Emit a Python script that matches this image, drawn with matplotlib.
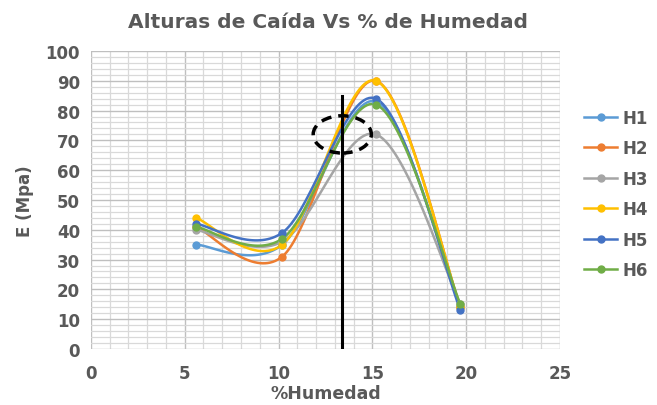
import numpy as np
import matplotlib.pyplot as plt
from matplotlib.patches import Ellipse
from matplotlib.ticker import MultipleLocator

# humedad (%) de cada punto
humedad = [5.6, 10.2, 15.2, 19.7]

# modulo E (Mpa) por serie
series = {
    'H1': [35, 35, 83, 14],
    'H2': [41, 31, 90, 14],
    'H3': [40, 36, 72, 15],
    'H4': [44, 35, 90, 14],
    'H5': [42, 39, 84, 13],
    'H6': [41, 37, 82, 15],
}
colores = {
    'H1': '#5B9BD5', 'H2': '#ED7D31', 'H3': '#A5A5A5',
    'H4': '#FFC000', 'H5': '#4472C4', 'H6': '#70AD47',
}

# linea vertical y elipse marcadas en el grafico
x_linea = 13.4
y_linea_max = 85
elipse_centro = (13.4, 72)
elipse_ancho, elipse_alto = 3.1, 12.5

gris = '#595959'


def suavizar(x, y, n=40):
    # curva tipo "linea suavizada" de Excel (bezier con tangentes catmull-rom)
    p = np.column_stack([x, y]).astype(float)
    ext = np.vstack([p[0], p, p[-1]])
    t = np.linspace(0, 1, n)[:, None]
    partes = []
    for i in range(len(p) - 1):
        p0, p1, p2, p3 = ext[i], ext[i + 1], ext[i + 2], ext[i + 3]
        c1 = p1 + (p2 - p0) / 6
        c2 = p2 - (p3 - p1) / 6
        b = ((1 - t) ** 3) * p1 + 3 * ((1 - t) ** 2) * t * c1 + 3 * (1 - t) * t ** 2 * c2 + t ** 3 * p2
        partes.append(b)
    c = np.vstack(partes)
    return c[:, 0], c[:, 1]


fig = plt.figure(figsize=(6.57, 4.06), dpi=100)
ax = fig.add_axes([0.1385, 0.138, 0.7135, 0.734])

for nombre, valores in series.items():
    xs, ys = suavizar(humedad, valores)
    ax.plot(xs, ys, color=colores[nombre], lw=1.8, zorder=3)
    ax.plot(humedad, valores, 'o', color=colores[nombre], ms=5, zorder=4)
    ax.plot([], [], '-o', color=colores[nombre], lw=1.8, ms=5, label=nombre)

ax.plot([x_linea, x_linea], [0, y_linea_max], color='black', lw=2.2, zorder=5)
ax.add_patch(Ellipse(elipse_centro, elipse_ancho, elipse_alto, fill=False,
                     ec='black', lw=2.5, ls=(0, (3, 2)), zorder=6))

ax.set_xlim(0, 25)
ax.set_ylim(0, 100)
ax.xaxis.set_major_locator(MultipleLocator(5))
ax.xaxis.set_minor_locator(MultipleLocator(1))
ax.yaxis.set_major_locator(MultipleLocator(10))
ax.yaxis.set_minor_locator(MultipleLocator(2))
ax.grid(which='major', color='#BFBFBF', lw=1.0, zorder=0)
ax.grid(which='minor', color='#D9D9D9', lw=0.9, zorder=0)
ax.set_axisbelow(True)
for s in ax.spines.values():
    s.set_visible(False)
ax.tick_params(which='both', length=0, labelsize=12, labelcolor=gris)
ax.tick_params(axis='x', pad=11)
ax.tick_params(axis='y', pad=8)
for lab in ax.get_xticklabels() + ax.get_yticklabels():
    lab.set_fontweight('bold')

fig.text(328 / 657, 1 - 22 / 406, 'Alturas de Caída Vs % de Humedad', fontsize=14.5,
         fontweight='bold', color=gris, ha='center', va='center')
ax.set_xlabel('%Humedad', fontsize=12.5, fontweight='bold', color=gris, labelpad=1)
ax.set_ylabel('E (Mpa)', fontsize=12, fontweight='bold', color=gris, labelpad=8)

leg = ax.legend(loc='center left', bbox_to_anchor=(1.02, 0.52), frameon=False,
                prop={'weight': 'bold', 'size': 12}, handlelength=2.0,
                handletextpad=0.3, labelspacing=0.75, labelcolor=gris)

fig.savefig('out.png', dpi=100)
